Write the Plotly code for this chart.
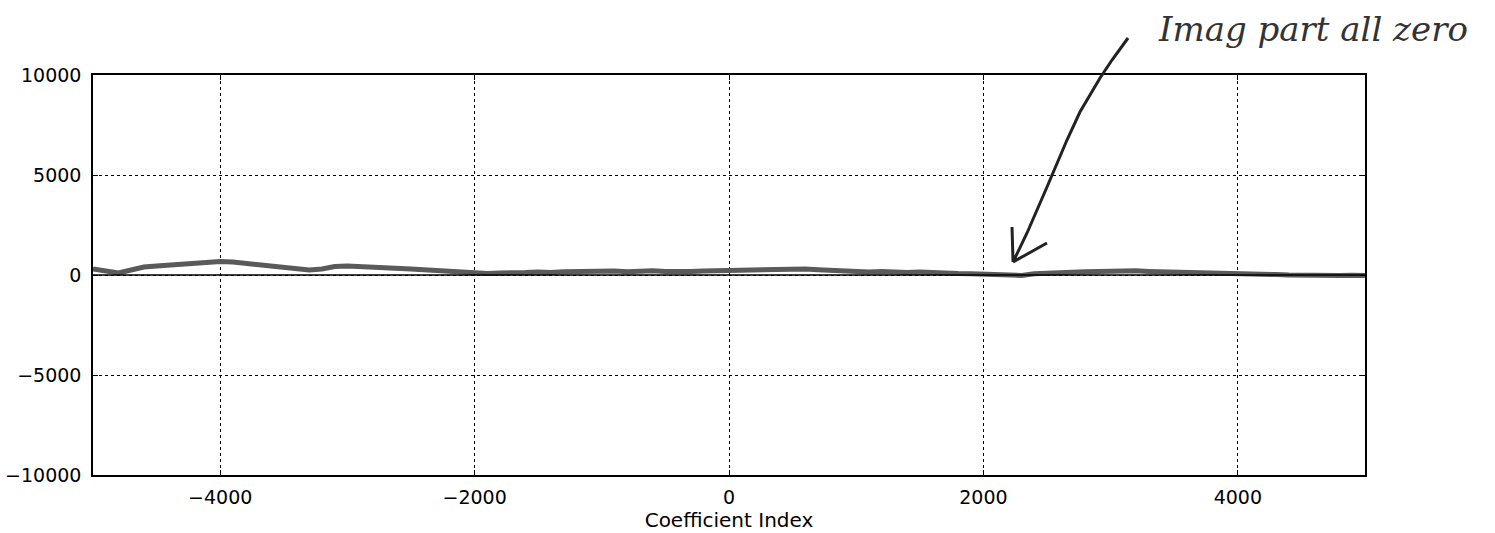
import plotly.graph_objects as go

# ---- data ----
coef_index = list(range(-5000, 5001, 100))
real_part = [300, 200, 100, 250, 400, 450, 500, 550, 600, 650,
             680, 650, 580, 500, 420, 360, 300, 250, 300, 420,
             450, 430, 400, 380, 350, 300, 260, 220, 180, 120,
             60, 80, 100, 90, 120, 150, 120, 160, 180, 140,
             170, 200, 160, 190, 210, 180, 150, 170, 200, 220,
             200, 230, 260, 240, 280, 320, 300, 260, 220, 200,
             180, 150, 170, 130, 120, 150, 110, 90, 70, 60,
             40, 20, -40, -20, 60, 100, 120, 140, 160, 180,
             200, 190, 210, 180, 170, 160, 150, 130, 120, 110,
             90, 60, 40, 20, 0, -20, -10, 0, -20, -10, -30]
imag_part = [0] * len(coef_index)

x_ticks = [-4000, -2000, 0, 2000, 4000]
x_tick_labels = ["\u22124000", "\u22122000", "0", "2000", "4000"]
y_ticks = [-10000, -5000, 0, 5000, 10000]
y_tick_labels = ["\u221210000", "\u22125000", "0", "5000", "10000"]
x_title = "Coefficient Index"
note_text = "Imag part all zero"

# ---- layout constants ----
W, H = 1495, 533
L, R, T, B = 93, 130, 75, 58
PW, PH = W - L - R, H - T - B

def px(x, y):
    return (x - L) / PW, (H - B - y) / PH

fig = go.Figure()
fig.add_trace(go.Scatter(x=coef_index, y=real_part, mode="lines",
                         line=dict(color="#5a5a5a", width=5), showlegend=False))
fig.add_trace(go.Scatter(x=coef_index, y=imag_part, mode="lines",
                         line=dict(color="#000000", width=1.5), showlegend=False))

axis_common = dict(showline=True, linecolor="black", linewidth=1.5, mirror="ticks",
                   ticks="inside", ticklen=5, tickcolor="black", automargin=False,
                   showgrid=True, gridcolor="black", gridwidth=1, griddash="dot",
                   zeroline=False, tickfont=dict(family="DejaVu Sans", size=19, color="black"))

fig.update_xaxes(range=[-5000, 5000], tickvals=x_ticks, ticktext=x_tick_labels,
                 ticklabelstandoff=4,
                 title=dict(text=x_title, font=dict(family="DejaVu Sans", size=20, color="black"),
                            standoff=2),
                 **axis_common)
fig.update_yaxes(range=[-10000, 10000], tickvals=y_ticks, ticktext=y_tick_labels,
                 ticklabelstandoff=6, **axis_common)

# hand-drawn arrow (pixel positions converted to paper coords)
pts = [(1128, 38), (1112, 60), (1100, 78), (1080, 112), (1067, 140), (1047, 187),
       (1027, 233), (1013, 262)]
path = "M " + " L ".join(f"{px(a, b)[0]:.4f},{px(a, b)[1]:.4f}" for a, b in pts)
head = [((1012, 227), (1013, 262)), ((1013, 262), (1047, 243))]
for (a1, b1), (a2, b2) in head:
    path += f" M {px(a1, b1)[0]:.4f},{px(a1, b1)[1]:.4f} L {px(a2, b2)[0]:.4f},{px(a2, b2)[1]:.4f}"
fig.add_shape(type="path", path=path, xref="paper", yref="paper",
              line=dict(color="#222222", width=3))

tx, ty = px(1156, 29)
fig.add_annotation(x=tx, y=ty, xref="paper", yref="paper", text=note_text,
                   showarrow=False, xanchor="left", yanchor="middle",
                   font=dict(family="DejaVu Serif", size=34, color="#333333", style="italic"))

fig.update_layout(width=W, height=H, margin=dict(l=L, r=R, t=T, b=B),
                  plot_bgcolor="white", paper_bgcolor="white")

fig.write_html("out.html", config={"displayModeBar": False},
               post_script="document.body.style.margin='0';")
